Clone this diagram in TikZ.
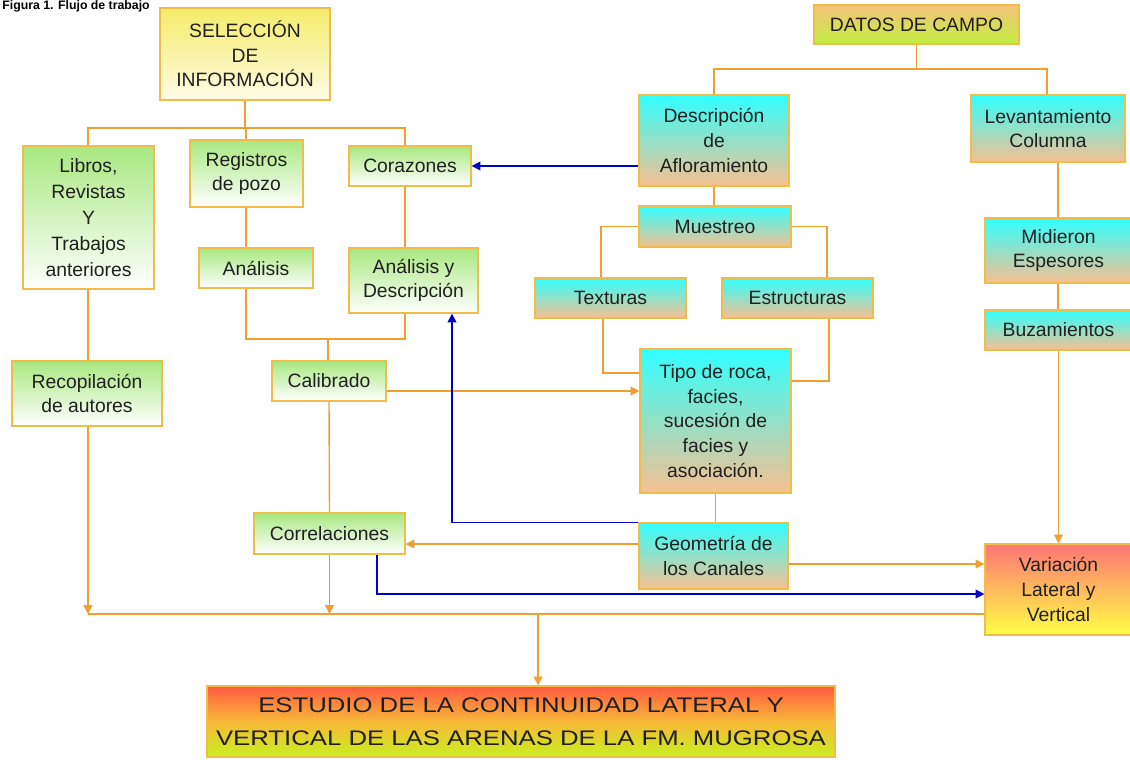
\documentclass[tikz,border=0pt]{standalone}
\usepackage{fontspec}
\setmainfont{Liberation Sans}
\newfontfamily\estfont[FakeStretch=1.22]{Liberation Sans}
\usetikzlibrary{arrows.meta}
\definecolor{ln}{HTML}{F0A030}
\definecolor{bd}{HTML}{F2BC48}
\definecolor{bl}{HTML}{0000C8}
\definecolor{txt}{HTML}{202020}
\definecolor{gtop}{HTML}{A8E880}
\definecolor{ctop}{HTML}{30FFFF}
\definecolor{cbot}{HTML}{F8C090}
\definecolor{ytop}{HTML}{F5EC6A}
\definecolor{ybot}{HTML}{FFFBE6}
\definecolor{dtop}{HTML}{F5C27A}
\definecolor{dbot}{HTML}{C2F040}
\definecolor{vtop}{HTML}{FF7575}
\definecolor{vbot}{HTML}{FFFF45}
\definecolor{etop}{HTML}{FF5A42}
\definecolor{emid}{HTML}{F8B838}
\definecolor{ebot}{HTML}{C8F020}
\newcommand\bx[7]{\node[#6, minimum width={(#4-#2)*0.02cm}, minimum height={(#5-#3)*0.02cm}] (#1) at ({(#2+#4)/2},{(#3+#5)/2}) {#7};}
\begin{document}
\begin{tikzpicture}[x=0.02cm,y=-0.02cm, font=\fontsize{11}{14}\selectfont,
 box/.style={draw=bd, line width=0.7pt, inner sep=0pt, align=center, text=txt},
 grn/.style={box, top color=gtop, bottom color=white},
 cyn/.style={box, top color=ctop, bottom color=cbot},
 ol/.style={draw=ln, line width=0.8pt},
 oa/.style={ol, -{Triangle[length=5pt,width=5pt]}},
 blu/.style={draw=bl, line width=0.8pt},
 ba/.style={blu, -{Triangle[length=5pt,width=5pt]}}]
\clip (0,0) rectangle (1130,760);
\fill[white] (0,0) rectangle (1130,760);
\node[anchor=base west, inner sep=0pt, font=\bfseries\fontsize{7}{8}\selectfont] (title) at (2,10) {Figura 1. Flujo de trabajo};
% helper coordinates
\coordinate (c88) at (88,0);
\coordinate (c246) at (246,0);
\coordinate (c328) at (328,0);
\coordinate (c377) at (377,0);
\coordinate (c405) at (405,0);
\coordinate (c452) at (452,0);
\coordinate (c601) at (601,0);
\coordinate (c603) at (603,0);
\coordinate (c714) at (714,0);
\coordinate (c827) at (827,0);
\coordinate (c829) at (829,0);
\coordinate (c1047) at (1047,0);
\coordinate (c1058) at (1058,0);
\coordinate (y69) at (0,69);
\coordinate (y128) at (0,128);
\coordinate (y166) at (0,166);
\coordinate (y339) at (0,339);
\coordinate (y373) at (0,373);
\coordinate (y381) at (0,381);
\coordinate (y391) at (0,391);
\coordinate (y544) at (0,544);
\coordinate (y564) at (0,564);
\coordinate (y594) at (0,594);
\coordinate (busL) at (88,614);
\coordinate (busM) at (538,614);
% boxes
\bx{sel}{160}{8}{330}{100}{box, top color=ytop, bottom color=ybot}{SELECCIÓN\\DE\\INFORMACIÓN}
\bx{dat}{814}{5}{1019}{44}{box, top color=dtop, bottom color=dbot}{DATOS DE CAMPO}
\bx{lib}{23}{146}{154}{289}{grn, font=\fontsize{11}{14.8}\selectfont}{Libros,\\Revistas\\Y\\Trabajos\\anteriores}
\bx{reg}{190}{140}{303}{207}{grn}{Registros\\de pozo}
\bx{cor}{349}{146}{471}{186}{grn}{Corazones}
\bx{ana}{199}{248}{313}{288}{grn}{Análisis}
\bx{ayd}{349}{248}{478}{313}{grn}{Análisis y\\Descripción}
\bx{rec}{12}{361}{162}{426}{grn}{Recopilación\\de autores}
\bx{cal}{272}{361}{386}{401}{grn}{Calibrado}
\bx{corr}{254}{513}{405}{554}{grn}{Correlaciones}
\bx{desc}{639}{95}{789}{186}{cyn}{Descripción\\de\\Afloramiento}
\bx{lev}{971}{95}{1125}{162}{cyn}{Levantamiento\\Columna}
\bx{mue}{639}{206}{791}{247}{cyn}{Muestreo}
\bx{tex}{535}{278}{686}{318}{cyn}{Texturas}
\bx{estr}{722}{278}{873}{318}{cyn}{Estructuras}
\bx{tipo}{640}{349}{791}{493}{cyn}{Tipo de roca,\\facies,\\sucesión de\\facies y\\asociación.}
\bx{geo}{639}{523}{788}{589}{cyn}{Geometría de\\los Canales}
\bx{mid}{985}{218}{1132}{283}{cyn}{Midieron\\Espesores}
\bx{buz}{985}{310}{1132}{350}{cyn}{Buzamientos}
\bx{var}{985}{544}{1132}{635}{box, top color=vtop, bottom color=vbot}{Variación\\Lateral y\\Vertical}
\bx{est}{207}{686}{835}{757}{box, top color=etop, bottom color=ebot, middle color=emid, font=\estfont\fontsize{12}{18.7}\selectfont}{ESTUDIO DE LA CONTINUIDAD LATERAL Y\\VERTICAL DE LAS ARENAS DE LA FM. MUGROSA}
% left tree
\draw[ol] (sel.south) -- (sel.south |- y128);
\draw[ol] (c88 |- lib.north) |- (c405 |- y128) -- (c405 |- cor.north);
\draw[ol] (c246 |- y128) -- (c246 |- reg.north);
\draw[ol] (c246 |- reg.south) -- (c246 |- ana.north);
\draw[ol] (c405 |- cor.south) -- (c405 |- ayd.north);
\draw[ol] (c246 |- ana.south) |- (c405 |- y339) -- (c405 |- ayd.south);
\draw[ol] (c328 |- y339) -- (c328 |- cal.north);
\draw[ol] (cal.south) -- (corr.north);
\draw[ol] (c88 |- lib.south) -- (c88 |- rec.north);
% right tree
\draw[ol] (dat.south) -- (dat.south |- y69);
\draw[ol] (c714 |- desc.north) |- (c1047 |- y69) -- (c1047 |- lev.north);
\draw[ol] (desc.south) -- (desc.south |- mue.north);
\draw[ol] (mue.west) -| (c601 |- tex.north);
\draw[ol] (mue.east) -| (c827 |- estr.north);
\draw[ol] (c603 |- tex.south) |- (tipo.west |- y373);
\draw[ol] (c829 |- estr.south) |- (tipo.east |- y381);
\draw[ol] (tipo.south) -- (tipo.south |- geo.north);
\draw[ol] (c1058 |- lev.south) -- (c1058 |- mid.north);
\draw[ol] (c1058 |- mid.south) -- (c1058 |- buz.north);
\draw[oa] (buz.south) -- (var.north);
% cross links
\draw[ba] (desc.west |- y166) -- (cor.east |- y166);
\draw[oa] (cal.east |- y391) -- (tipo.west |- y391);
\draw[ba] (geo.north west) -| (c452 |- ayd.south);
\draw[oa] (geo.west |- y544) -- (corr.east |- y544);
\draw[oa] (geo.east |- y564) -- (var.west |- y564);
\draw[ba] (c377 |- corr.south) |- (var.west |- y594);
% bottom bus
\draw[oa] (c88 |- rec.south) -- (busL);
\draw[oa] (corr.south) -- (corr.south |- busL);
\draw[ol] (busL) -- (var.west |- busL);
\draw[oa] (busM) -- (busM |- est.north);
\end{tikzpicture}
\end{document}
